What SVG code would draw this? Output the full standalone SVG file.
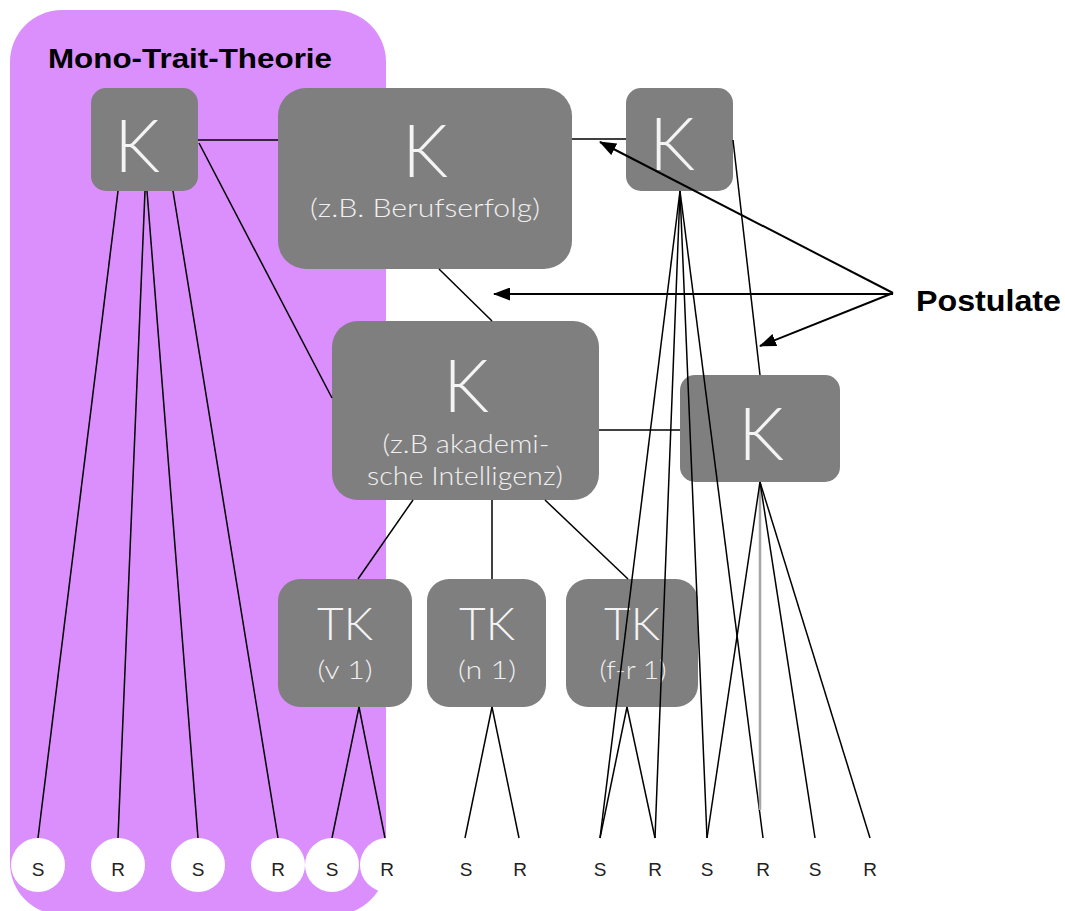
<svg xmlns="http://www.w3.org/2000/svg" width="1065" height="911" viewBox="0 0 1065 911">
  <defs>
    <marker id="arrow" markerUnits="userSpaceOnUse" markerWidth="17" markerHeight="13" refX="16" refY="6.5" orient="auto">
      <path d="M0,0 L17,6.5 L0,13 Z" fill="#000"/>
    </marker>
    <style>
      .node { fill: #7f7f7f; }
      .big { font-family: Lato, "Open Sans", "DejaVu Sans", sans-serif; font-weight: 300; font-size: 72px; fill: #f4f4f4; text-anchor: middle; }
      .tk { font-family: Lato, "Open Sans", "DejaVu Sans", sans-serif; font-weight: 300; font-size: 46px; fill: #f4f4f4; text-anchor: middle; }
      .sub { font-family: Lato, "Open Sans", "DejaVu Sans", sans-serif; font-weight: 300; font-size: 25px; fill: #f0f0f0; text-anchor: middle; }
      .link { stroke: #000; stroke-width: 1.5; fill: none; }
      .faint { stroke: #a6a6a6; stroke-width: 2.5; fill: none; }
      .post { stroke: #000; stroke-width: 2; fill: none; marker-end: url(#arrow); }
      .leaf { fill: #fff; }
      .leafText { font-family: "Liberation Sans", Arial, sans-serif; font-size: 19px; fill: #222; text-anchor: middle; }
      .title { font-family: "Liberation Sans", Arial, sans-serif; font-weight: bold; fill: #000; }
    </style>
  </defs>

  <!-- Mono-Trait region -->
  <g id="mono-trait">
    <rect x="10" y="10" width="376" height="905" rx="52" ry="52" fill="#da8ffc"/>
    <text class="title" x="48" y="68" font-size="27" textLength="284" lengthAdjust="spacingAndGlyphs">Mono-Trait-Theorie</text>
  </g>

  <!-- Nodes -->
  <g id="k-mono">
    <rect class="node" x="91" y="88" width="107" height="103" rx="15"/>
    <text class="big" x="137" y="172">K</text>
  </g>
  <g id="k-berufserfolg">
    <rect class="node" x="278" y="88" width="294" height="181" rx="28"/>
    <text class="big" x="425" y="177">K</text>
    <text class="sub" x="425" y="217" textLength="230" lengthAdjust="spacingAndGlyphs">(z.B. Berufserfolg)</text>
  </g>
  <g id="k-top-right">
    <rect class="node" x="626" y="88" width="107" height="103" rx="15"/>
    <text class="big" x="672" y="170">K</text>
  </g>
  <g id="k-intelligenz">
    <rect class="node" x="332" y="321" width="267" height="179" rx="26"/>
    <text class="big" x="466" y="412">K</text>
    <text class="sub" x="466" y="453" textLength="167" lengthAdjust="spacingAndGlyphs">(z.B akademi-</text>
    <text class="sub" x="465" y="485" textLength="196" lengthAdjust="spacingAndGlyphs">sche Intelligenz)</text>
  </g>
  <g id="k-mid-right">
    <rect class="node" x="680" y="375" width="160" height="107" rx="15"/>
    <text class="big" x="761" y="460">K</text>
  </g>
  <g id="tk-v1">
    <rect class="node" x="278" y="579" width="134" height="128" rx="22"/>
    <text class="tk" x="345" y="640">TK</text>
    <text class="sub" x="345" y="679" textLength="55" lengthAdjust="spacingAndGlyphs">(v 1)</text>
  </g>
  <g id="tk-n1">
    <rect class="node" x="427" y="579" width="119" height="128" rx="22"/>
    <text class="tk" x="487" y="640">TK</text>
    <text class="sub" x="487" y="679" textLength="58" lengthAdjust="spacingAndGlyphs">(n 1)</text>
  </g>
  <g id="tk-fr1">
    <rect class="node" x="566" y="579" width="132" height="128" rx="22"/>
    <text class="tk" x="632" y="640">TK</text>
    <text class="sub" x="633" y="679" textLength="67" lengthAdjust="spacingAndGlyphs">(f-r 1)</text>
  </g>

  <!-- Connectors -->
  <g id="connectors">
    <!-- mono-trait construct to its stimuli/responses -->
    <line class="link" x1="118" y1="191" x2="38" y2="838"/>
    <line class="link" x1="145" y1="191" x2="118" y2="838"/>
    <line class="link" x1="147" y1="191" x2="198" y2="838"/>
    <line class="link" x1="173" y1="191" x2="278" y2="838"/>
    <!-- construct links -->
    <line class="link" x1="198" y1="140" x2="278" y2="140"/>
    <line class="link" x1="199" y1="143" x2="332" y2="398"/>
    <line class="link" x1="439" y1="269" x2="492" y2="321"/>
    <line class="link" x1="572" y1="139" x2="626" y2="139"/>
    <line class="link" x1="733" y1="140" x2="760" y2="375"/>
    <line class="link" x1="599" y1="430" x2="680" y2="430"/>
    <!-- top-right construct fan -->
    <line class="link" x1="680" y1="191" x2="600" y2="838"/>
    <line class="link" x1="680" y1="191" x2="655" y2="838"/>
    <line class="link" x1="680" y1="191" x2="707" y2="838"/>
    <line class="link" x1="680" y1="191" x2="763" y2="838"/>
    <!-- intelligence construct to sub-constructs -->
    <line class="link" x1="413" y1="500" x2="358" y2="579"/>
    <line class="link" x1="492" y1="500" x2="492" y2="579"/>
    <line class="link" x1="545" y1="500" x2="628" y2="579"/>
    <!-- sub-construct fans -->
    <line class="link" x1="359" y1="707" x2="332" y2="838"/>
    <line class="link" x1="359" y1="707" x2="385" y2="838"/>
    <line class="link" x1="492" y1="707" x2="465" y2="838"/>
    <line class="link" x1="492" y1="707" x2="519" y2="838"/>
    <line class="link" x1="627" y1="707" x2="600" y2="838"/>
    <line class="link" x1="627" y1="707" x2="655" y2="838"/>
    <!-- mid-right construct fan -->
    <line class="faint" x1="760" y1="484" x2="760" y2="810"/>
    <line class="link" x1="760" y1="482" x2="707" y2="838"/>
    <line class="link" x1="760" y1="482" x2="815" y2="838"/>
    <line class="link" x1="760" y1="482" x2="870" y2="838"/>
    <!-- postulate arrows -->
    <line class="post" x1="893" y1="293" x2="600" y2="142"/>
    <line class="post" x1="893" y1="294" x2="494" y2="294"/>
    <line class="post" x1="893" y1="293" x2="760" y2="346"/>
  </g>

  <!-- Stimulus / response items -->
  <g id="items">
    <circle class="leaf" cx="38" cy="865" r="27"/>
    <circle class="leaf" cx="118" cy="865" r="27"/>
    <circle class="leaf" cx="198" cy="865" r="27"/>
    <circle class="leaf" cx="278" cy="865" r="27"/>
    <circle class="leaf" cx="332" cy="865" r="27"/>
    <circle class="leaf" cx="387" cy="865" r="27"/>
    <text class="leafText" x="38" y="876">S</text>
    <text class="leafText" x="118" y="876">R</text>
    <text class="leafText" x="198" y="876">S</text>
    <text class="leafText" x="278" y="876">R</text>
    <text class="leafText" x="332" y="876">S</text>
    <text class="leafText" x="387" y="876">R</text>
    <text class="leafText" x="466" y="876">S</text>
    <text class="leafText" x="520" y="876">R</text>
    <text class="leafText" x="600" y="876">S</text>
    <text class="leafText" x="655" y="876">R</text>
    <text class="leafText" x="707" y="876">S</text>
    <text class="leafText" x="763" y="876">R</text>
    <text class="leafText" x="815" y="876">S</text>
    <text class="leafText" x="870" y="876">R</text>
  </g>

  <g id="postulate-label">
    <text class="title" x="916" y="311" font-size="30" textLength="145" lengthAdjust="spacingAndGlyphs">Postulate</text>
  </g>
</svg>
